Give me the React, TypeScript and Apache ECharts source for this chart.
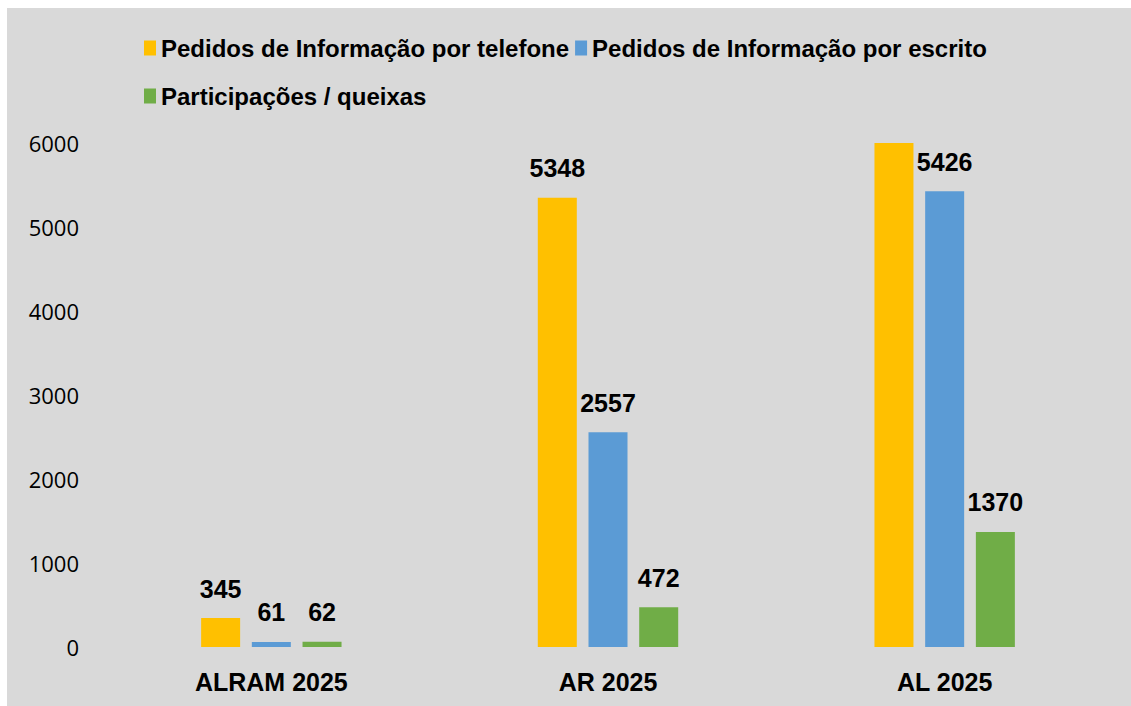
import React, { useEffect, useRef } from "react";
import * as echarts from "echarts";

const categories = ["ALRAM 2025", "AR 2025", "AL 2025"];
const seriesNames = [
  "Pedidos de Informação por telefone",
  "Pedidos de Informação por escrito",
  "Participações / queixas",
];
const telefone = [345, 5348, 6400];
const escrito = [61, 2557, 5426];
const queixas = [62, 472, 1370];
const colors = ["#FFC000", "#5B9BD5", "#70AD47"];
const hiddenLabel = [false, false, true];

export default function App() {
  const ref = useRef<HTMLDivElement>(null);
  useEffect(() => {
    if (!ref.current) return;
    const chart = echarts.init(ref.current, null, { renderer: "svg" });
    const label = {
      show: true,
      position: "top",
      distance: 17,
      color: "#000",
      fontFamily: "Liberation Sans",
      fontWeight: "bold",
      fontSize: 25,
    };
    const mk = (name: string, vals: number[], color: string, i: number) => ({
      name,
      type: "bar",
      barWidth: 39,
      barGap: "30%",
      clip: true,
      itemStyle: { color },
      label,
      data: vals.map((v, j) =>
        i === 0 && hiddenLabel[j] ? { value: v, label: { show: false } } : v
      ),
    });
    const legendText = {
      fontFamily: "Liberation Sans",
      fontWeight: "bold",
      fontSize: 24,
      color: "#000",
    };
    chart.setOption({
      animation: false,
      backgroundColor: "#D9D9D9",
      color: colors,
      legend: [
        {
          data: [seriesNames[0], seriesNames[1]],
          left: 132,
          top: 23,
          icon: "rect",
          itemWidth: 12,
          itemHeight: 15,
          itemGap: 6,
          textStyle: legendText,
        },
        {
          data: [seriesNames[2]],
          left: 132,
          top: 71,
          icon: "rect",
          itemWidth: 12,
          itemHeight: 15,
          itemGap: 6,
          textStyle: legendText,
        },
      ],
      grid: { left: 96, right: 18, top: 135, bottom: 59, containLabel: false },
      xAxis: {
        type: "category",
        data: categories,
        axisLine: { show: false },
        axisTick: { show: false },
        axisLabel: {
          margin: 22,
          color: "#000",
          fontFamily: "Liberation Sans",
          fontWeight: "bold",
          fontSize: 25,
        },
      },
      yAxis: {
        type: "value",
        min: 0,
        max: 6000,
        interval: 1000,
        splitLine: { show: false },
        axisLine: { show: false },
        axisTick: { show: false },
        axisLabel: {
          margin: 24,
          color: "#000",
          fontFamily: "Open Sans",
          fontSize: 22,
          formatter: (v: number) => String(v),
        },
      },
      series: [
        mk(seriesNames[0], telefone, colors[0], 0),
        mk(seriesNames[1], escrito, colors[1], 1),
        mk(seriesNames[2], queixas, colors[2], 2),
      ],
    });
    return () => chart.dispose();
  }, []);
  return (
    <div
      ref={ref}
      style={{ position: "fixed", left: 7, top: 8, width: 1124, height: 698 }}
    />
  );
}
